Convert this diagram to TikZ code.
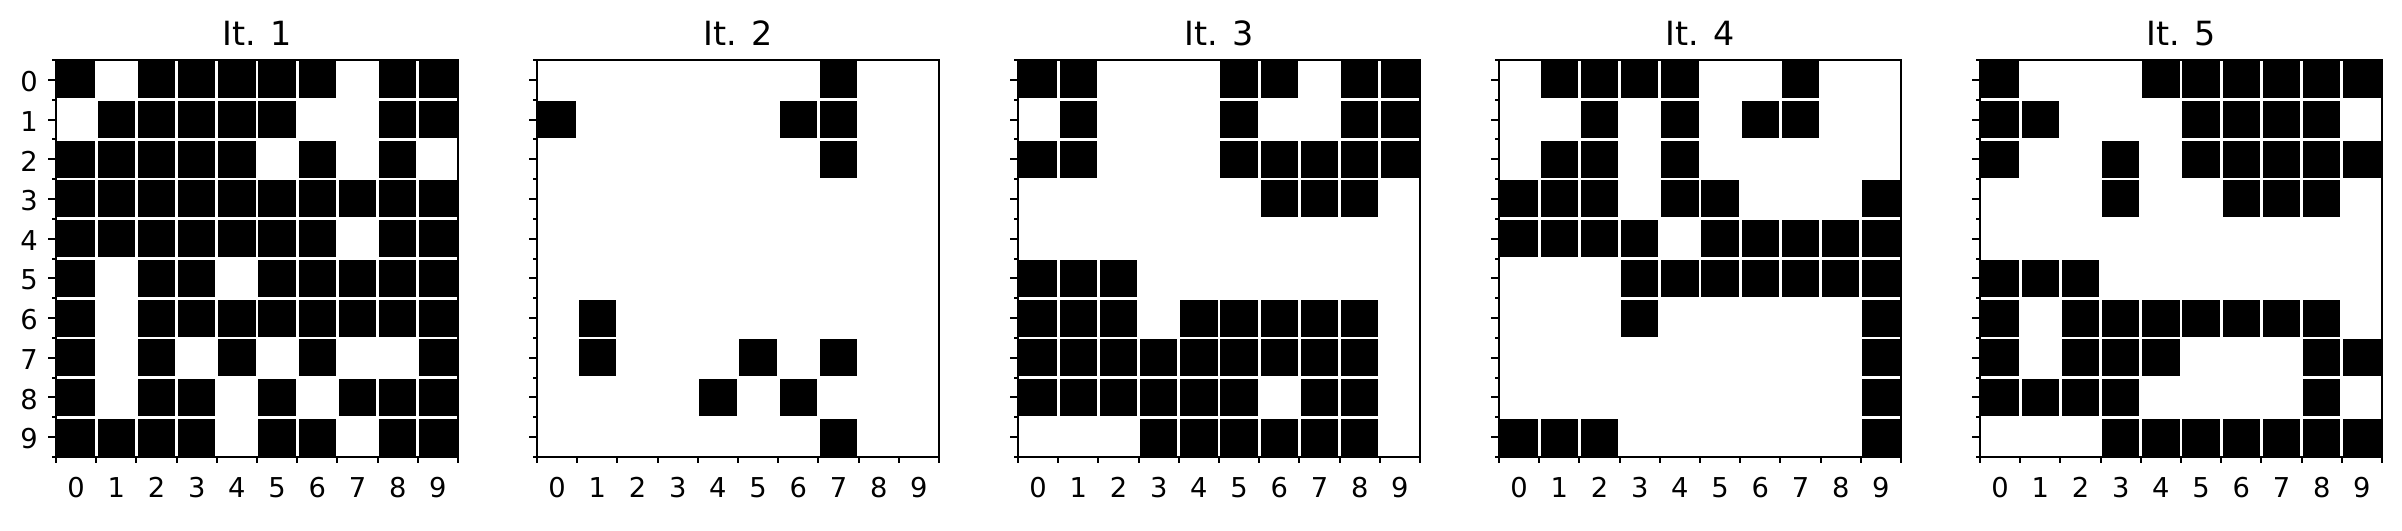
\documentclass[tikz,border=0pt]{standalone}
\usepackage{fontspec}
\setmainfont{DejaVu Sans}

% one panel: #1 = panel index, #2 = title, #3 = rows of the grid
\newcommand\itpanel[3]{%
  \begin{scope}[shift={(#1*481,0)}]
    \foreach \row [count=\r from 0] in {#3} {
      \foreach \v [count=\c from 0] in \row {
        \ifnum\v=1 \filldraw[cell] (56+\c*40.2,60+\r*39.7) rectangle ++(40.2,39.7); \fi
      }
    }
    \draw[frame] (56,60) rectangle (458,457);
    \foreach \k in {0,...,9}
      \draw[tick] (56,79.85+39.7*\k) -- ++(-7.7,0);
    \foreach \k in {0,...,10} {
      \draw[tick] (56,60+39.7*\k) -- ++(-4.3,0);
      \draw[tick] (56+40.2*\k,457) -- ++(0,5.5);
    }
    \foreach \k in {0,...,9}
      \node[ticklabel,anchor=base] (x#1\k) at (76.1+40.2*\k,497) {\k};
    \node[title] (t#1) at (257,45) {#2};
  \end{scope}
}

\begin{document}
\begin{tikzpicture}
  [x=0.3pt,y=-0.3pt,
   cell/.style={fill=black,draw=white,line width=0.8pt},
   frame/.style={line width=0.6pt},
   tick/.style={line width=0.6pt},
   ticklabel/.style={font=\fontsize{8.2}{10}\selectfont,inner sep=0pt},
   title/.style={font=\fontsize{10}{12}\selectfont,inner sep=0pt,anchor=base}]
  \fill[white] (0,0) rectangle (2402,530);
  \useasboundingbox (0,0) rectangle (2402,530);

  \itpanel{0}{It. 1}{{1,0,1,1,1,1,1,0,1,1},{0,1,1,1,1,1,0,0,1,1},{1,1,1,1,1,0,1,0,1,0},
    {1,1,1,1,1,1,1,1,1,1},{1,1,1,1,1,1,1,0,1,1},{1,0,1,1,0,1,1,1,1,1},{1,0,1,1,1,1,1,1,1,1},
    {1,0,1,0,1,0,1,0,0,1},{1,0,1,1,0,1,0,1,1,1},{1,1,1,1,0,1,1,0,1,1}}
  \itpanel{1}{It. 2}{{0,0,0,0,0,0,0,1,0,0},{1,0,0,0,0,0,1,1,0,0},{0,0,0,0,0,0,0,1,0,0},
    {0,0,0,0,0,0,0,0,0,0},{0,0,0,0,0,0,0,0,0,0},{0,0,0,0,0,0,0,0,0,0},{0,1,0,0,0,0,0,0,0,0},
    {0,1,0,0,0,1,0,1,0,0},{0,0,0,0,1,0,1,0,0,0},{0,0,0,0,0,0,0,1,0,0}}
  \itpanel{2}{It. 3}{{1,1,0,0,0,1,1,0,1,1},{0,1,0,0,0,1,0,0,1,1},{1,1,0,0,0,1,1,1,1,1},
    {0,0,0,0,0,0,1,1,1,0},{0,0,0,0,0,0,0,0,0,0},{1,1,1,0,0,0,0,0,0,0},{1,1,1,0,1,1,1,1,1,0},
    {1,1,1,1,1,1,1,1,1,0},{1,1,1,1,1,1,0,1,1,0},{0,0,0,1,1,1,1,1,1,0}}
  \itpanel{3}{It. 4}{{0,1,1,1,1,0,0,1,0,0},{0,0,1,0,1,0,1,1,0,0},{0,1,1,0,1,0,0,0,0,0},
    {1,1,1,0,1,1,0,0,0,1},{1,1,1,1,0,1,1,1,1,1},{0,0,0,1,1,1,1,1,1,1},{0,0,0,1,0,0,0,0,0,1},
    {0,0,0,0,0,0,0,0,0,1},{0,0,0,0,0,0,0,0,0,1},{1,1,1,0,0,0,0,0,0,1}}
  \itpanel{4}{It. 5}{{1,0,0,0,1,1,1,1,1,1},{1,1,0,0,0,1,1,1,1,0},{1,0,0,1,0,1,1,1,1,1},
    {0,0,0,1,0,0,1,1,1,0},{0,0,0,0,0,0,0,0,0,0},{1,1,1,0,0,0,0,0,0,0},{1,0,1,1,1,1,1,1,1,0},
    {1,0,1,1,1,0,0,0,1,1},{1,1,1,1,0,0,0,0,1,0},{0,0,0,1,1,1,1,1,1,1}}

  % row labels, first panel only
  \foreach \k in {0,...,9}
    \node[ticklabel,anchor=east] (y\k) at (38.5,81.5+39.7*\k) {\k};
\end{tikzpicture}
\end{document}
